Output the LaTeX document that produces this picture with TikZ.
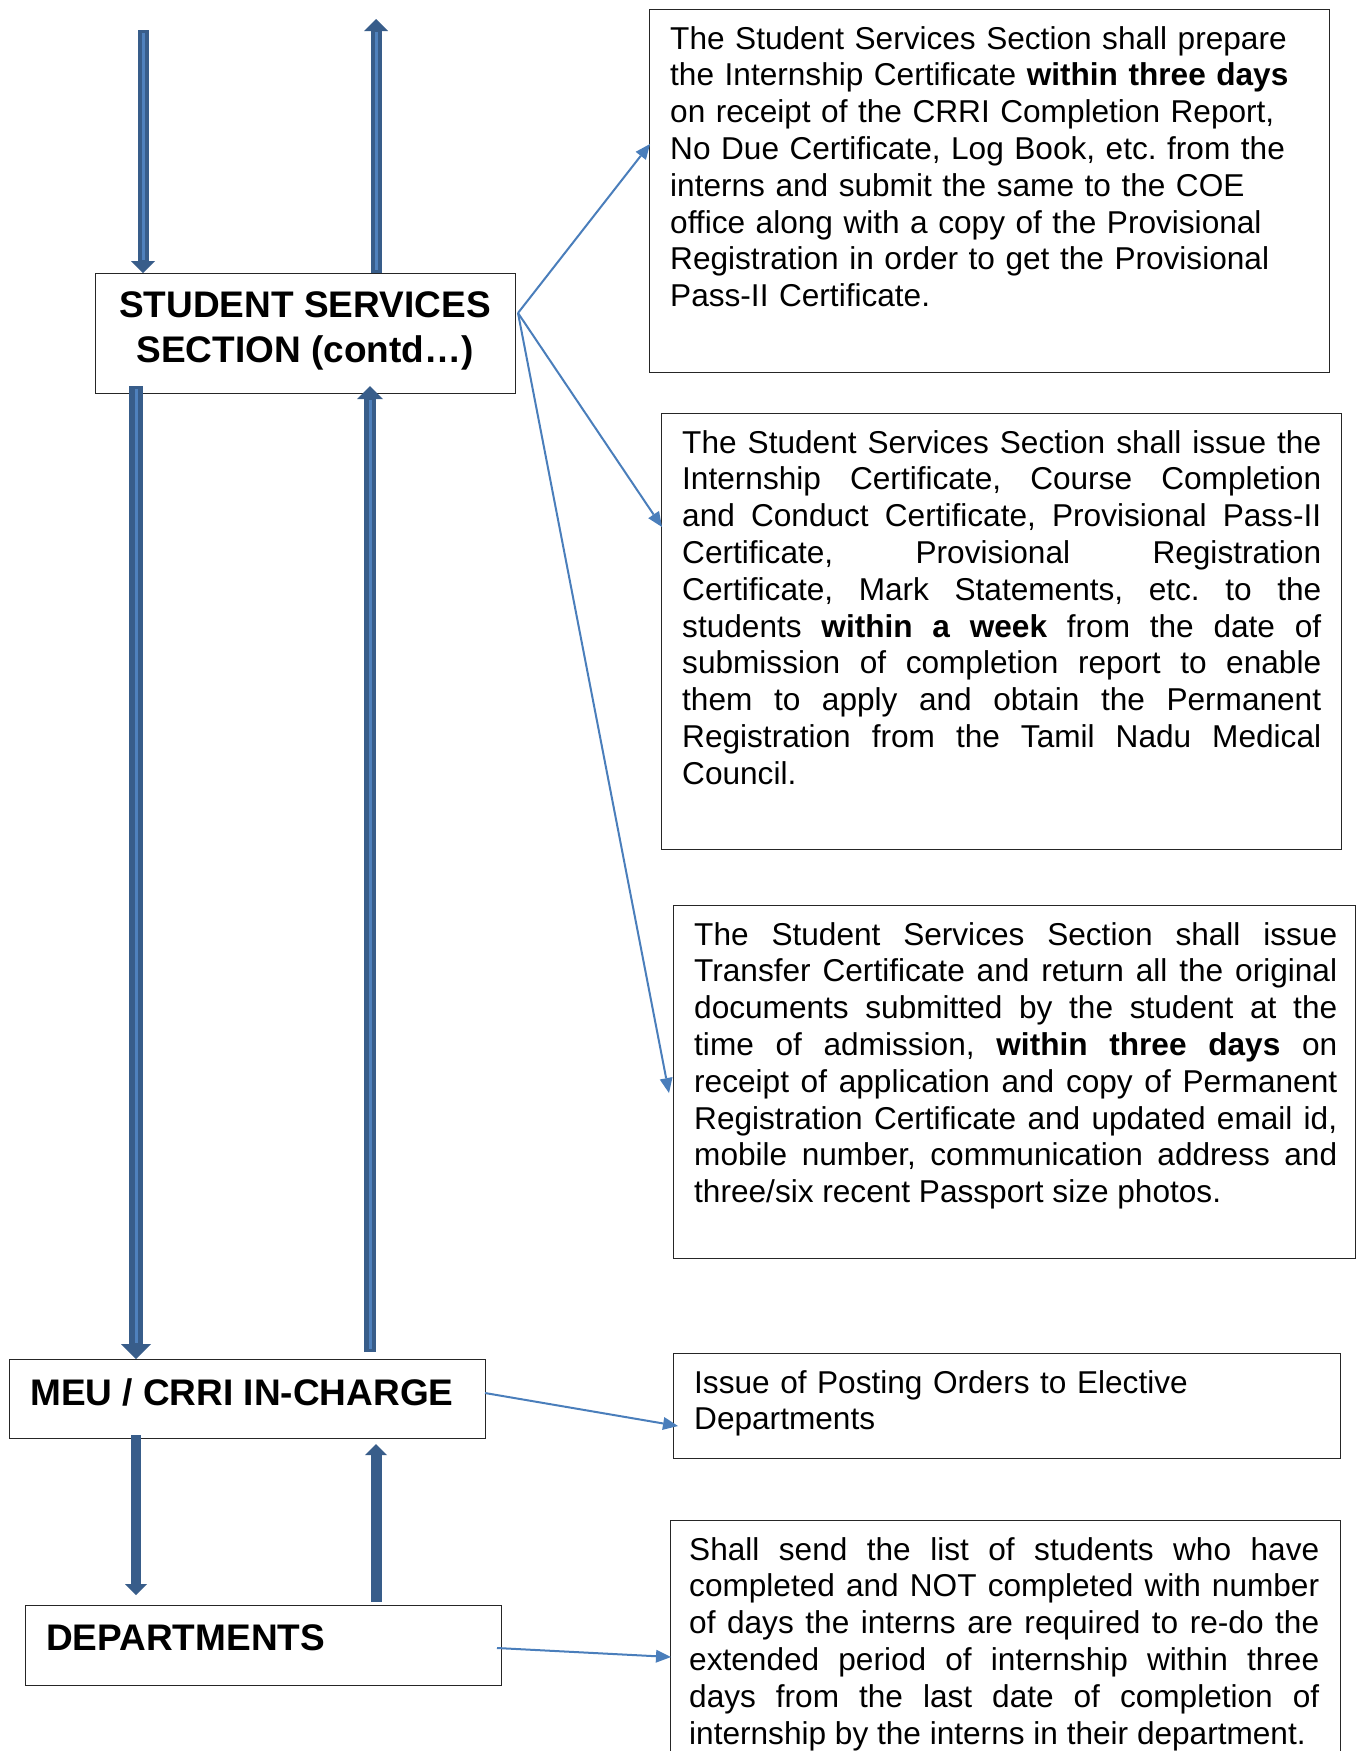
\documentclass[tikz,border=0pt]{standalone}
\usepackage{fontspec}
\setmainfont{Liberation Sans}
\usetikzlibrary{arrows.meta,calc}
\definecolor{arrD}{RGB}{56,93,138}
\definecolor{arrL}{RGB}{79,129,189}
\definecolor{lineB}{RGB}{74,126,187}
\frenchspacing
\begin{document}
\begin{tikzpicture}[x=1pt,y=-1pt,
  box/.style={draw=black!85, line width=1.4pt, fill=white, anchor=north west, inner sep=0pt},
  para/.style={anchor=base west, inner sep=0pt, text width=#1, align=left, font=\fontsize{31.6}{36.8}\selectfont\frenchspacing},
  head/.style={inner sep=0pt, font=\fontsize{37}{45}\selectfont\bfseries},
  conn/.style={lineB, line width=2pt, -{Triangle[width=13pt,length=15pt,line width=0pt]}},
  stripe/.style={arrL, line width=3pt, shorten <=3pt, shorten >=#1}
]
\useasboundingbox (0,0) rectangle (1356,1751);
\clip (0,0) rectangle (1356,1751);

% boxes
\node[box, minimum width=420pt, minimum height=120pt] (s) at (95,273) {};
\node[box, minimum width=476pt, minimum height=79pt] (m) at (9,1359) {};
\node[box, minimum width=476pt, minimum height=80pt] (d) at (25,1605) {};
\node[box, minimum width=680pt, minimum height=363pt] (b1) at (649,9) {};
\node[box, minimum width=680pt, minimum height=436pt] (b2) at (661,413) {};
\node[box, minimum width=682pt, minimum height=353pt] (b3) at (673,905) {};
\node[box, minimum width=667pt, minimum height=105pt] (b4) at (673,1353) {};
\node[box, minimum width=670pt, minimum height=300pt] (b5) at (670,1520) {};

% headings
\node[head, anchor=base] (t1) at (305,317) {STUDENT SERVICES};
\node[head, anchor=base] (t2) at (305,362) {SECTION (contd…)};
\node[head, anchor=base west] (t3) at (30,1405) {MEU / CRRI IN-CHARGE};
\node[head, anchor=base west] (t4) at (46,1650) {DEPARTMENTS};

% paragraphs
\node[para=645pt] (p1) at (670,49) {The Student Services Section shall prepare\\
the Internship Certificate \textbf{within three days}\\
on receipt of the CRRI Completion Report,\\
No Due Certificate, Log Book, etc. from the\\
interns and submit the same to the COE\\
office along with a copy of the Provisional\\
Registration in order to get the Provisional\\
Pass-II Certificate.};

\node[para=639pt, align=justify] (p2) at (682,453) {The Student Services Section shall issue the\linebreak
Internship Certificate, Course Completion\linebreak
and Conduct Certificate, Provisional Pass-II\linebreak
Certificate, Provisional Registration\linebreak
Certificate, Mark Statements, etc. to the\linebreak
students \textbf{within a week} from the date of\linebreak
submission of completion report to enable\linebreak
them to apply and obtain the Permanent\linebreak
Registration from the Tamil Nadu Medical\linebreak
Council.};

\node[para=643pt, align=justify] (p3) at (694,945) {The Student Services Section shall issue\linebreak
Transfer Certificate and return all the original\linebreak
documents submitted by the student at the\linebreak
time of admission, \textbf{within three days} on\linebreak
receipt of application and copy of Permanent\linebreak
Registration Certificate and updated email id,\linebreak
mobile number, communication address and\linebreak
three/six recent Passport size photos.};

\node[para=620pt] (p4) at (694,1393) {Issue of Posting Orders to Elective\\
Departments};

\node[para=630pt, align=justify] (p5) at (689,1560) {Shall send the list of students who have\linebreak
completed and NOT completed with number\linebreak
of days the interns are required to re-do the\linebreak
extended period of internship within three\linebreak
days from the last date of completion of\linebreak
\mbox{internship by the interns in their department.}};

% coordinates
\coordinate (tlt) at (143,30);
\coordinate (trt) at (376,19);
\coordinate (sL) at (136,386);
\coordinate (sR) at (370,386);
\coordinate (mR) at (370,1352);
\coordinate (mL) at (136,1435);
\coordinate (dL) at (136,1595);
\coordinate (dR) at (376,1602);
\coordinate (mRt) at (376,1444);

% block arrows
\draw[arrD, line width=11pt, -{Triangle[width=24pt,length=12pt,line width=0pt]}] (tlt) -- (tlt |- s.north);
\draw[stripe=13pt] (tlt) -- (tlt |- s.north);
\draw[arrD, line width=11pt, -{Triangle[width=24pt,length=12pt,line width=0pt]}] (trt |- s.north) -- (trt);
\draw[stripe=13pt] (trt |- s.north) -- (trt);

\draw[arrD, line width=14pt, -{Triangle[width=30pt,length=15pt,line width=0pt]}] (sL) -- (sL |- m.north);
\draw[stripe=16pt] (sL) -- (sL |- m.north);
\draw[arrD, line width=12pt, -{Triangle[width=26pt,length=13pt,line width=0pt]}] (mR) -- (sR);
\draw[stripe=14pt] (mR) -- (sR);

\draw[arrD, line width=10pt, -{Triangle[width=22pt,length=11pt,line width=0pt]}] (mL) -- (dL);
\draw[arrD, line width=11pt, -{Triangle[width=22pt,length=11pt,line width=0pt]}] (dR) -- (mRt);

% thin connectors
\coordinate (sO) at (518,313);
\coordinate (b1i) at (650,144);
\coordinate (b2i) at (662,527);
\coordinate (b3i) at (669,1093);
\coordinate (mO) at (485,1393);
\coordinate (b4i) at (678,1426);
\coordinate (dO) at (497,1648);
\coordinate (b5i) at (671,1657);
\draw[conn] (sO) -- (b1i);
\draw[conn] (sO) -- (b2i);
\draw[conn] (sO) -- (b3i);
\draw[conn] (mO) -- (b4i);
\draw[conn] (dO) -- (b5i);
\end{tikzpicture}
\end{document}
